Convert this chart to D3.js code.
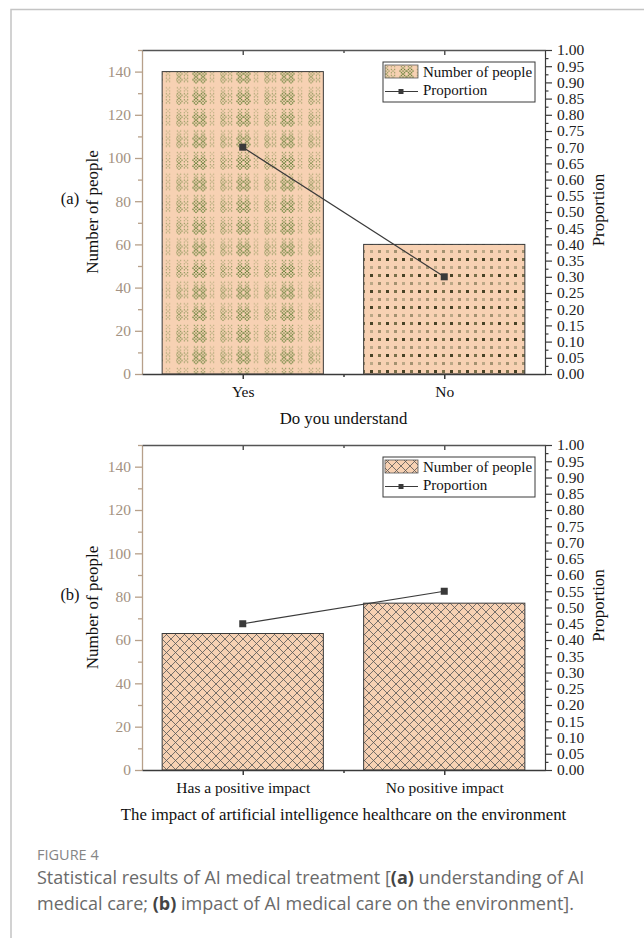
<!DOCTYPE html>
<html>
<head>
<meta charset="utf-8">
<script src="https://cdn.jsdelivr.net/npm/d3@7/dist/d3.min.js"></script>
<style>
	body { margin: 0; background: #fff; }
	svg text { font-family: "Liberation Serif", "Times New Roman", serif; }
	svg text.cap { font-family: "Open Sans", sans-serif; }
</style>
</head>
<body>
<svg width="644" height="938"></svg>
<script>
// data
const categoriesA = ['Yes', 'No'],
	peopleA = [140, 60],
	proportionA = [0.70, 0.30],
	categoriesB = ['Has a positive impact', 'No positive impact'],
	peopleB = [63, 77],
	proportionB = [0.45, 0.55],
	leftTicks = [0, 20, 40, 60, 80, 100, 120, 140],
	leftMinor = [10, 30, 50, 70, 90, 110, 130, 150],
	rightTicks = [0, 0.05, 0.10, 0.15, 0.20, 0.25, 0.30, 0.35, 0.40, 0.45, 0.50,
		0.55, 0.60, 0.65, 0.70, 0.75, 0.80, 0.85, 0.90, 0.95, 1.00],
	titleA = 'Do you understand',
	titleB = 'The impact of artificial intelligence healthcare on the environment';

const L = 142, R = 545,
	peach = '#f7d1b3',
	tan = '#b7a08a',
	dark = '#3a3a3a';

const svg = d3.select('svg');
const defs = svg.append('defs');

// frame of the figure box
svg.append('path')
	.attr('d', 'M11,938 V9.5 H644')
	.attr('fill', 'none')
	.attr('stroke', '#c4c4c4')
	.attr('stroke-width', 1.5);

// ---- fill patterns ----
// (a) Yes: green dotted clusters
let pYes = defs.append('pattern')
	.attr('id', 'patYes')
	.attr('patternUnits', 'userSpaceOnUse')
	.attr('width', 44).attr('height', 21.6);
pYes.append('rect').attr('width', 44).attr('height', 21.6).attr('fill', peach);
const yesCols = [[3, 0.6], [10, 0.5], [20, 0.95], [27, 0.95], [36, 0.35]],
	yesRows = [[3, 0.5], [9, 0.95], [15, 0.95]];
yesRows.forEach(([ry, rs]) => {
	yesCols.forEach(([cx, cs]) => {
		let s = rs * cs;
		[[0, 0], [-1.6, -1.6], [1.6, -1.6], [-1.6, 1.6], [1.6, 1.6], [-3, 0], [3, 0], [0, -3], [0, 3]]
			.forEach(([dx, dy], k) => {
				if (k > 4 && s < 0.5) return;
				pYes.append('rect')
					.attr('x', cx + dx - 0.65).attr('y', ry + dy - 0.65)
					.attr('width', 1.3).attr('height', 1.3)
					.attr('fill', '#5b7b30')
					.attr('opacity', Math.min(1, s + 0.15));
			});
	});
});

// (a) No: grid of small dark squares
let pNo = defs.append('pattern')
	.attr('id', 'patNo')
	.attr('patternUnits', 'userSpaceOnUse')
	.attr('width', 16).attr('height', 16);
pNo.append('rect').attr('width', 16).attr('height', 16).attr('fill', peach);
[[2, 2, '#3d3a1e', 0.95], [10, 2, '#5a5630', 0.8], [2, 10, '#8a8460', 0.55], [10, 10, '#6b6642', 0.6]]
	.forEach(([x, y, c, o]) => {
		pNo.append('rect')
			.attr('x', x).attr('y', y).attr('width', 3).attr('height', 3)
			.attr('fill', c).attr('opacity', o);
	});

// (b): cross hatch
let pHatch = defs.append('pattern')
	.attr('id', 'patHatch')
	.attr('patternUnits', 'userSpaceOnUse')
	.attr('width', 9).attr('height', 9);
pHatch.append('rect').attr('width', 9).attr('height', 9).attr('fill', peach);
pHatch.append('path')
	.attr('d', 'M-1,-1 L10,10 M-1,10 L10,-1')
	.attr('stroke', '#555')
	.attr('stroke-width', 0.8);

const panels = [
	{tag: '(a)', top: 50, bottom: 374, cats: categoriesA, people: peopleA, prop: proportionA,
		title: titleA, fills: ['patYes', 'patNo'], legendFill: 'patYes'},
	{tag: '(b)', top: 445, bottom: 770, cats: categoriesB, people: peopleB, prop: proportionB,
		title: titleB, fills: ['patHatch', 'patHatch'], legendFill: 'patHatch'}
];

panels.forEach(drawPanel);

function drawPanel(p) {
	const g = svg.append('g');
	const x = d3.scaleLinear().domain([0.5, 2.5]).range([L, R]),
		y = d3.scaleLinear().domain([0, 150]).range([p.bottom, p.top]),
		y2 = d3.scaleLinear().domain([0, 1]).range([p.bottom, p.top]),
		mid = (p.top + p.bottom) / 2;

	// bars
	g.selectAll('rect.bar')
		.data(p.people)
		.join('rect')
		.attr('class', 'bar')
		.attr('x', (d, i) => x(i + 1 - 0.4))
		.attr('width', x(1.4) - x(0.6))
		.attr('y', d => y(d))
		.attr('height', d => y(0) - y(d))
		.attr('fill', (d, i) => `url(#${p.fills[i]})`)
		.attr('stroke', dark)
		.attr('stroke-width', 1);

	// left axis (tan)
	let ly = g.append('g')
		.attr('transform', `translate(${L},0)`)
		.call(d3.axisLeft(y).tickValues(leftTicks).tickSize(7).tickSizeOuter(0).tickPadding(4));
	ly.append('g').call(d3.axisLeft(y).tickValues(leftMinor).tickSize(4).tickFormat(''))
		.select('.domain').remove();
	ly.selectAll('path, line').attr('stroke', tan).attr('stroke-width', 1.3);
	ly.selectAll('text')
		.attr('fill', '#a39282')
		.style('font-size', '15.5px');

	// right axis
	let ry = g.append('g')
		.attr('transform', `translate(${R},0)`)
		.call(d3.axisRight(y2).tickValues(rightTicks).tickFormat(d3.format('.2f'))
			.tickSize(7).tickSizeOuter(0).tickPadding(5));
	ry.append('g').call(d3.axisRight(y2)
		.tickValues(rightTicks.slice(1).map((t, i) => (t + rightTicks[i]) / 2))
		.tickSize(3.5).tickFormat(''))
		.select('.domain').remove();
	ry.selectAll('path, line').attr('stroke', dark).attr('stroke-width', 1.2);
	ry.selectAll('text').attr('fill', '#222').style('font-size', '15.5px');

	// bottom axis
	let bx = g.append('g')
		.attr('transform', `translate(0,${p.bottom})`)
		.call(d3.axisBottom(x).tickValues([1, 2]).tickFormat(d => p.cats[d - 1])
			.tickSize(5).tickSizeOuter(0).tickPadding(7));
	bx.append('g').call(d3.axisBottom(x).tickValues([1.5]).tickSize(3).tickFormat(''))
		.select('.domain').remove();
	bx.selectAll('path, line').attr('stroke', dark).attr('stroke-width', 1.5);
	bx.selectAll('text').attr('fill', '#111').style('font-size', '15.5px');

	// top axis, ticks pointing inward
	let tx = g.append('g')
		.attr('transform', `translate(0,${p.top})`)
		.call(d3.axisTop(x).tickValues([1, 2]).tickSize(-5).tickSizeOuter(0).tickFormat(''));
	tx.append('g').call(d3.axisTop(x).tickValues([1.5]).tickSize(-3).tickFormat(''))
		.select('.domain').remove();
	tx.selectAll('path, line').attr('stroke', '#555').attr('stroke-width', 1.5);

	// proportion line
	g.append('path')
		.datum(p.prop)
		.attr('d', d3.line().x((d, i) => x(i + 1)).y(d => y2(d)))
		.attr('fill', 'none')
		.attr('stroke', dark)
		.attr('stroke-width', 1.2);
	g.selectAll('rect.pt')
		.data(p.prop)
		.join('rect')
		.attr('class', 'pt')
		.attr('x', (d, i) => x(i + 1) - 3.5)
		.attr('y', d => y2(d) - 3.5)
		.attr('width', 7).attr('height', 7)
		.attr('fill', dark);

	// axis titles
	g.append('text')
		.attr('transform', `translate(98,${mid}) rotate(-90)`)
		.attr('text-anchor', 'middle')
		.style('font-size', '17px')
		.attr('fill', '#111')
		.text('Number of people');
	g.append('text')
		.attr('x', 70).attr('y', mid - 8)
		.attr('text-anchor', 'middle')
		.style('font-size', '16.5px')
		.attr('fill', '#111')
		.text(p.tag);
	g.append('text')
		.attr('transform', `translate(604,${mid - 2}) rotate(-90)`)
		.attr('text-anchor', 'middle')
		.style('font-size', '17px')
		.attr('fill', '#111')
		.text('Proportion');
	g.append('text')
		.attr('x', (L + R) / 2).attr('y', p.bottom + 50)
		.attr('text-anchor', 'middle')
		.style('font-size', '16.8px')
		.attr('fill', '#111')
		.text(p.title);

	// legend
	let lg = g.append('g').attr('transform', `translate(383,${p.top + 12})`);
	lg.append('rect')
		.attr('width', 152).attr('height', 40)
		.attr('fill', '#fff')
		.attr('stroke', dark).attr('stroke-width', 1);
	lg.append('rect')
		.attr('x', 2).attr('y', 3).attr('width', 33).attr('height', 13)
		.attr('fill', `url(#${p.legendFill})`)
		.attr('stroke', '#555').attr('stroke-width', 0.8);
	lg.append('line')
		.attr('x1', 2).attr('x2', 35).attr('y1', 29.5).attr('y2', 29.5)
		.attr('stroke', dark).attr('stroke-width', 1.2);
	lg.append('rect')
		.attr('x', 15.5).attr('y', 27).attr('width', 5).attr('height', 5)
		.attr('fill', dark);
	lg.append('text')
		.attr('x', 40).attr('y', 15)
		.style('font-size', '15px').attr('fill', '#111')
		.text('Number of people');
	lg.append('text')
		.attr('x', 40).attr('y', 33)
		.style('font-size', '15px').attr('fill', '#111')
		.text('Proportion');
}

// caption
svg.append('text')
	.attr('class', 'cap')
	.attr('x', 37).attr('y', 860)
	.style('font-size', '14.5px')
	.attr('fill', '#858585')
	.text('FIGURE 4');

const capLines = [
	[['Statistical results of AI medical treatment [', false], ['(a)', true], [' understanding of AI', false]],
	[['medical care; ', false], ['(b)', true], [' impact of AI medical care on the environment].', false]]
];
capLines.forEach((line, i) => {
	let t = svg.append('text')
		.attr('class', 'cap')
		.attr('x', 37).attr('y', 884 + i * 26)
		.style('font-size', '18px')
		.attr('fill', '#6a6a6a');
	line.forEach(([s, b]) => {
		t.append('tspan')
			.attr('font-weight', b ? 700 : 400)
			.attr('fill', b ? '#444' : '#6a6a6a')
			.text(s);
	});
});
</script>
</body>
</html>
